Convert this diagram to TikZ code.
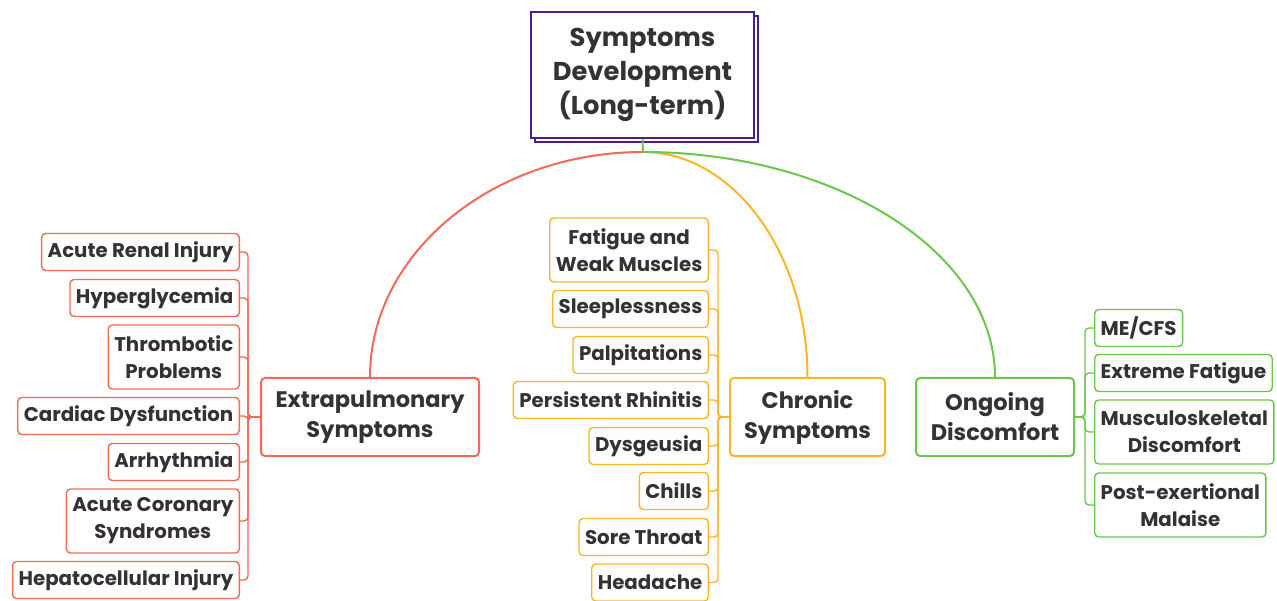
\documentclass[tikz,border=0pt]{standalone}
\usepackage{fontspec}
\setmainfont{Poppins}
\usetikzlibrary{shadows}
\definecolor{txt}{HTML}{333333}
\definecolor{rootc}{HTML}{4B1D8F}
\definecolor{redc}{HTML}{F5695A}
\definecolor{orac}{HTML}{FDB528}
\definecolor{grnc}{HTML}{6CC64C}
\tikzset{
  box/.style={draw,rounded corners=4,fill=white,text=txt,align=center,inner xsep=6,inner ysep=2},
  leaf/.style={box,line width=1.4,minimum height=37,font=\fontsize{19.8}{27}\selectfont\bfseries},
  mainbox/.style={box,line width=2,minimum height=78,font=\fontsize{22.5}{30}\selectfont\bfseries},
  link/.style={line width=1.4,rounded corners=4}
}
\begin{document}
\begin{tikzpicture}[x=1pt,y=-1pt]
\useasboundingbox (0,0) rectangle (1277,601);
% root and the three branches
\node[draw=rootc,line width=2.5,fill=white,text=txt,align=center,
  copy shadow={shadow xshift=4pt,shadow yshift=-4pt},
  minimum width=223,minimum height=126,
  font=\fontsize{25.8}{34}\selectfont\bfseries] (R) at (642.5,75) {Symptoms\\Development\\(Long-term)};
\coordinate (J) at (643,152);
\node[mainbox,draw=redc,minimum width=218] (E) at (370,417) {Extrapulmonary\\Symptoms};
\node[mainbox,draw=orac,minimum width=155] (C) at (807.5,417) {Chronic\\Symptoms};
\node[mainbox,draw=grnc,minimum width=158] (D) at (995,417) {Ongoing\\Discomfort};
\draw[grnc,line width=2] (R.south) -- (J);
\draw[redc,line width=2] (J) .. controls +(-150,0) and +(0,-124) .. (E.north);
\draw[orac,line width=2] (J) .. controls +(90,0) and +(0,-124) .. (C.north);
\draw[grnc,line width=2] (J) .. controls +(194,0) and +(0,-124) .. (D.north);
% leaves
\foreach \n/\y/\h/\t in {1/252/37/Acute Renal Injury,2/298/37/Hyperglycemia,
  3/357/64/{Thrombotic\\Problems},4/416/37/Cardiac Dysfunction,5/462/37/Arrhythmia,
  6/521/64/{Acute Coronary\\Syndromes},7/580/37/Hepatocellular Injury}{
  \node[leaf,draw=redc,anchor=east,minimum height=\h] (E\n) at (240,\y) {\t};
  \draw[link,redc] (E.west) -- ++(-12,0) |- (E\n.east);
}
\foreach \n/\y/\h/\t in {1/250/64/{Fatigue and\\Weak Muscles},2/309/37/Sleeplessness,
  3/355/37/Palpitations,4/400/37/Persistent Rhinitis,5/446/37/Dysgeusia,
  6/491/37/Chills,7/537/37/Sore Throat,8/582.5/37/Headache}{
  \node[leaf,draw=orac,anchor=east,minimum height=\h] (C\n) at (709,\y) {\t};
  \draw[link,orac] (C.west) -- ++(-11,0) |- (C\n.east);
}
\foreach \n/\y/\h/\t in {1/328/37/{ME/CFS},2/373/37/Extreme Fatigue,
  3/432/64/{Musculoskeletal\\Discomfort},4/505/64/{Post-exertional\\Malaise}}{
  \node[leaf,draw=grnc,anchor=west,minimum height=\h] (D\n) at (1094,\y) {\t};
  \draw[link,grnc] (D.east) -- ++(10,0) |- (D\n.west);
}
\end{tikzpicture}
\end{document}
